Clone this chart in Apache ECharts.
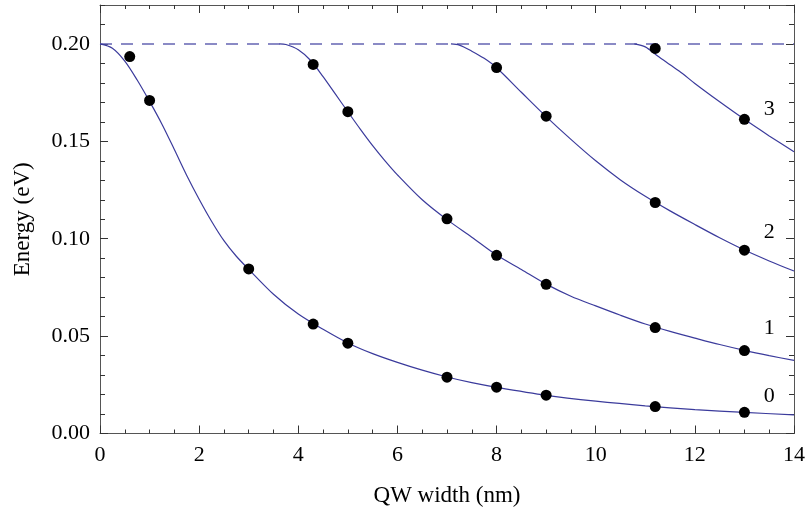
<!DOCTYPE html>
<html>
<head>
<meta charset="utf-8">
<script src="https://cdn.jsdelivr.net/npm/echarts@6/dist/echarts.min.js"></script>
<style>
html,body{margin:0;padding:0;background:#fff;}
#c{width:808px;height:519px;}
</style>
</head>
<body>
<div id="c"></div>
<script>
// ---- data ----
const barrier = 0.2;
const xRange = [0, 14];
const yRange = [0, 0.22];

const curve0X = [0, 0.25, 0.5, 0.75, 1.0, 1.25, 1.5, 1.75, 2.0, 2.25, 2.5, 2.75, 3.0, 3.5, 4.0, 4.5, 5.0, 5.5, 6.0, 6.5, 7.0, 7.5, 8.0, 9.0, 10.0, 11.0, 12.0, 13.0, 14.0];
const curve0Y = [0.2, 0.1978, 0.1912, 0.1815, 0.1705, 0.1588, 0.1458, 0.1325, 0.1203, 0.1090, 0.0990, 0.0910, 0.0843, 0.0715, 0.0613, 0.0535, 0.0465, 0.0410, 0.0365, 0.0325, 0.0290, 0.0261, 0.0237, 0.0196, 0.0166, 0.0142, 0.0123, 0.0108, 0.0096];

const curve1X = [3.62, 3.75, 4.0, 4.25, 4.5, 4.75, 5.0, 5.25, 5.5, 5.75, 6.0, 6.5, 7.0, 7.5, 8.0, 8.5, 9.0, 9.5, 10.0, 10.5, 11.0, 11.5, 12.0, 12.5, 13.0, 13.5, 14.0];
const curve1Y = [0.2, 0.1997, 0.1970, 0.1915, 0.1832, 0.1742, 0.1652, 0.1563, 0.1478, 0.1400, 0.1328, 0.1200, 0.1098, 0.1008, 0.0916, 0.0842, 0.0767, 0.0705, 0.0655, 0.0607, 0.0562, 0.0524, 0.0490, 0.0457, 0.0427, 0.0400, 0.0375];

const curve2X = [7.08, 7.25, 7.5, 7.75, 8.0, 8.5, 9.0, 9.5, 10.0, 10.5, 11.0, 11.5, 12.0, 12.5, 13.0, 13.5, 14.0];
const curve2Y = [0.2, 0.1994, 0.1963, 0.1926, 0.1878, 0.1752, 0.1627, 0.1510, 0.1400, 0.1302, 0.1218, 0.1143, 0.1073, 0.1005, 0.0942, 0.0886, 0.0834];

const curve3X = [10.78, 11.0, 11.25, 11.5, 11.75, 12.0, 12.5, 13.0, 13.5, 14.0];
const curve3Y = [0.2, 0.1985, 0.1938, 0.1893, 0.1848, 0.1797, 0.1703, 0.1613, 0.1528, 0.1446];

const dots0X = [0.6, 1.0, 3.0, 4.3, 5.0, 7.0, 8.0, 9.0, 11.2, 13.0];
const dots0Y = [0.1935, 0.171, 0.0845, 0.0562, 0.0464, 0.0289, 0.0238, 0.0197, 0.0138, 0.0109];
const dots1X = [4.3, 5.0, 7.0, 8.0, 9.0, 11.2, 13.0];
const dots1Y = [0.1895, 0.1652, 0.1102, 0.0915, 0.0766, 0.0544, 0.0426];
const dots2X = [8.0, 9.0, 11.2, 13.0];
const dots2Y = [0.1879, 0.1629, 0.1186, 0.0941];
const dots3X = [11.2, 13.0];
const dots3Y = [0.1977, 0.1613];

const levelNames = ['0', '1', '2', '3'];
const levelLabelX = [13.5, 13.5, 13.5, 13.5];
const levelLabelY = [0.0192, 0.054, 0.1032, 0.1665];

const xTitle = 'QW width (nm)';
const yTitle = 'Energy (eV)';

// ---- build ----
const zip = (xs, ys) => xs.map((x, i) => [x, ys[i]]);
const FONT = 'Liberation Serif';
const FRAME = '#555';
const CURVE = '#3b3b9c';

function xAx(pos, showLabel) {
  return {
    type: 'value', position: pos, min: xRange[0], max: xRange[1], interval: 2,
    axisLine: { show: true, onZero: false, lineStyle: { color: FRAME, width: 1 } },
    axisTick: { show: true, inside: true, length: 8, lineStyle: { color: '#333' } },
    minorTick: { show: true, splitNumber: 4, length: 4, lineStyle: { color: '#333' } },
    splitLine: { show: false },
    axisLabel: { show: showLabel, fontFamily: FONT, fontSize: 22, color: '#000', margin: 11 },
    name: showLabel ? xTitle : '', nameLocation: 'middle', nameGap: 51,
    nameTextStyle: { fontFamily: FONT, fontSize: 23, color: '#000' }
  };
}
function yAx(pos, major, showLabel) {
  return {
    type: 'value', position: pos, min: yRange[0], max: yRange[1], interval: major ? 0.05 : 0.01,
    axisLine: { show: major, onZero: false, lineStyle: { color: FRAME, width: 1 } },
    axisTick: { show: true, inside: true, length: major ? 8 : 5, lineStyle: { color: '#333' } },
    splitLine: { show: false },
    axisLabel: { show: showLabel, showMaxLabel: false, fontFamily: FONT, fontSize: 22, color: '#000', margin: 10,
      formatter: v => (Math.abs(v / 0.05 - Math.round(v / 0.05)) < 1e-6 ? v.toFixed(2) : '') },
    name: showLabel ? yTitle : '', nameLocation: 'middle', nameGap: 66, nameRotate: 90,
    nameTextStyle: { fontFamily: FONT, fontSize: 23, color: '#000' }
  };
}

const curveSeries = [[curve0X, curve0Y], [curve1X, curve1Y], [curve2X, curve2Y], [curve3X, curve3Y]].map(([xs, ys]) => ({
  type: 'line', data: zip(xs, ys), smooth: 0.3, showSymbol: false, symbol: 'none',
  lineStyle: { color: CURVE, width: 1.2 }, z: 3, silent: true
}));

const dotSeries = {
  type: 'scatter', symbol: 'circle', symbolSize: 11, itemStyle: { color: '#000', opacity: 1 }, z: 5,
  data: [].concat(zip(dots0X, dots0Y), zip(dots1X, dots1Y), zip(dots2X, dots2Y), zip(dots3X, dots3Y))
};

const labelSeries = {
  type: 'scatter', symbolSize: 0, z: 6, itemStyle: { opacity: 1 },
  data: levelNames.map((n, i) => ({ value: [levelLabelX[i], levelLabelY[i]], name: n })),
  label: { show: true, position: 'inside', formatter: p => p.name, fontFamily: FONT, fontSize: 22, color: '#000', opacity: 1 }
};

const barrierSeries = {
  type: 'line', data: [[xRange[0], barrier], [xRange[1], barrier]], symbol: 'none',
  lineStyle: { color: '#6464b2', width: 1.5, type: [12, 9] }, z: 2, silent: true
};

const chart = echarts.init(document.getElementById('c'), null, { renderer: 'canvas' });
chart.setOption({
  animation: false,
  backgroundColor: '#fff',
  grid: { left: 100, right: 13, top: 5, bottom: 85.5, containLabel: false },
  xAxis: [xAx('bottom', true), xAx('top', false)],
  yAxis: [yAx('left', true, true), yAx('left', false, false), yAx('right', true, false), yAx('right', false, false)],
  series: [barrierSeries].concat(curveSeries, [dotSeries, labelSeries])
});
</script>
</body>
</html>
